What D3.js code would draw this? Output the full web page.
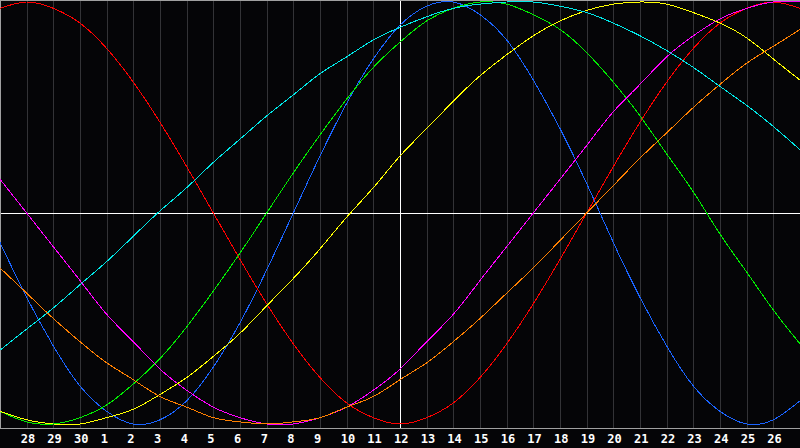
<!DOCTYPE html>
<html>
<head>
<meta charset="utf-8">
<script src="https://cdn.jsdelivr.net/npm/d3@7"></script>
<style>
  html, body { margin: 0; padding: 0; background: #050507; }
  svg { display: block; }
</style>
</head>
<body>
<svg id="chart" width="800" height="448"></svg>
<script>
// Day numbers for each column (index 0 = left edge, index 30 = right edge)
const days = [27,28,29,30,1,2,3,4,5,6,7,8,9,10,11,12,13,14,15,16,17,18,19,20,21,22,23,24,25,26,27];
// Tick labels shown under grid lines (indices 1..29)
const tickIndex = d3.range(1, 30);
const tickLabels = ["28","29","30","1","2","3","4","5","6","7","8","9","10","11","12","13","14","15","16","17","18","19","20","21","22","23","24","25","26"];
const todayIndex = 15; // day 12

// Cycle values per day (-1..1)
const physical     = [-0.14,-0.40,-0.63,-0.82,-0.94,-1.00,-0.98,-0.89,-0.73,-0.52,-0.27,0.00,0.27,0.52,0.73,0.89,0.98,1.00,0.94,0.82,0.63,0.40,0.14,-0.14,-0.40,-0.63,-0.82,-0.94,-1.00,-0.98,-0.89];
const emotional    = [0.97,1.00,0.97,0.90,0.78,0.62,0.43,0.22,0.00,-0.22,-0.43,-0.62,-0.78,-0.90,-0.97,-1.00,-0.97,-0.90,-0.78,-0.62,-0.43,-0.22,0.00,0.22,0.43,0.62,0.78,0.90,0.97,1.00,0.97];
const intellectual = [-0.94,-0.99,-1.00,-0.97,-0.91,-0.81,-0.69,-0.54,-0.37,-0.19,0.00,0.19,0.37,0.54,0.69,0.81,0.91,0.97,1.00,0.99,0.94,0.87,0.76,0.62,0.46,0.28,0.10,-0.10,-0.28,-0.46,-0.62];
const intuitive    = [0.16,0.00,-0.16,-0.32,-0.48,-0.61,-0.74,-0.84,-0.92,-0.97,-1.00,-1.00,-0.97,-0.92,-0.84,-0.74,-0.61,-0.48,-0.32,-0.16,0.00,0.16,0.32,0.48,0.61,0.74,0.84,0.92,0.97,1.00,1.00];
const aesthetic    = [-0.94,-0.98,-1.00,-1.00,-0.97,-0.93,-0.86,-0.78,-0.68,-0.57,-0.44,-0.31,-0.17,-0.02,0.12,0.27,0.40,0.53,0.65,0.75,0.84,0.91,0.96,0.99,1.00,0.99,0.95,0.90,0.83,0.73,0.63];
const awareness    = [-0.26,-0.38,-0.50,-0.61,-0.71,-0.79,-0.87,-0.92,-0.97,-0.99,-1.00,-0.99,-0.97,-0.92,-0.87,-0.79,-0.71,-0.61,-0.50,-0.38,-0.26,-0.13,0.00,0.13,0.26,0.38,0.50,0.61,0.71,0.79,0.87];
const spiritual    = [-0.65,-0.55,-0.45,-0.34,-0.23,-0.11,0.01,0.12,0.24,0.35,0.46,0.56,0.66,0.74,0.82,0.88,0.93,0.97,0.99,1.00,1.00,0.98,0.95,0.90,0.84,0.77,0.69,0.60,0.51,0.41,0.30];

const seriesList = [
  { name: "physical",     values: physical,     color: "#1a64ff" },
  { name: "emotional",    values: emotional,    color: "#ff0000" },
  { name: "intellectual", values: intellectual, color: "#00ee00" },
  { name: "intuitive",    values: intuitive,    color: "#ff00ff" },
  { name: "aesthetic",    values: aesthetic,    color: "#ffff00" },
  { name: "awareness",    values: awareness,    color: "#ff8000" },
  { name: "spiritual",    values: spiritual,    color: "#00e8e8" }
];

const W = 800, H = 448, plotBottom = 428;
const svg = d3.select("#chart");

svg.append("rect").attr("width", W).attr("height", H).attr("fill", "#050507");

const x = d3.scaleLinear().domain([0, 30]).range([0, 800]);
const y = d3.scaleLinear().domain([-1, 1]).range([424, 2]);

// vertical grid lines
svg.append("g").selectAll("line").data(tickIndex).join("line")
  .attr("x1", d => Math.round(x(d)) + 0.5).attr("x2", d => Math.round(x(d)) + 0.5)
  .attr("y1", 0).attr("y2", plotBottom)
  .attr("stroke", "#333336").attr("stroke-width", 1)
  .attr("shape-rendering", "crispEdges");

// frame
const frame = svg.append("g").attr("stroke", "#a0a0a0").attr("stroke-width", 1).attr("shape-rendering", "crispEdges");
frame.append("line").attr("x1", 0).attr("x2", W).attr("y1", 0.5).attr("y2", 0.5);
frame.append("line").attr("x1", 0.5).attr("x2", 0.5).attr("y1", 0).attr("y2", plotBottom);
frame.append("line").attr("x1", 0).attr("x2", W).attr("y1", plotBottom + 0.5).attr("y2", plotBottom + 0.5);

// today / zero lines
const yc = Math.round(y(0)) + 0.5;
svg.append("line").attr("x1", 1).attr("x2", W).attr("y1", yc).attr("y2", yc)
  .attr("stroke", "#ffffff").attr("shape-rendering", "crispEdges");
const xt = Math.round(x(todayIndex)) + 0.5;
svg.append("line").attr("x1", xt).attr("x2", xt).attr("y1", 1).attr("y2", plotBottom)
  .attr("stroke", "#ffffff").attr("shape-rendering", "crispEdges");

// curves
const line = d3.line()
  .x((d, i) => x(i))
  .y(d => y(d))
  .curve(d3.curveNatural);

svg.append("g").selectAll("path").data(seriesList).join("path")
  .attr("d", s => line(s.values))
  .attr("fill", "none")
  .attr("stroke", s => s.color)
  .attr("stroke-width", 1)
  .attr("shape-rendering", "crispEdges");

// axis labels
const axis = d3.axisBottom(x)
  .tickValues(tickIndex)
  .tickFormat((d, i) => tickLabels[i])
  .tickSize(0)
  .tickPadding(0);

const ag = svg.append("g").attr("transform", `translate(0,${plotBottom})`).call(axis);
ag.select(".domain").remove();
ag.selectAll("text")
  .attr("text-anchor", "start")
  .attr("x", -6.5)
  .attr("y", 15)
  .attr("dy", null)
  .attr("fill", "#ffffff")
  .style("font-family", "'DejaVu Sans Mono', monospace")
  .style("font-weight", "bold")
  .style("font-size", "12px");
</script>
</body>
</html>
